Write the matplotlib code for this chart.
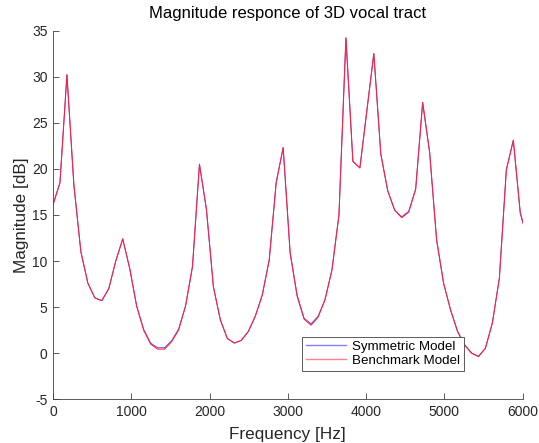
import numpy as np
import matplotlib
matplotlib.use("Agg")
import matplotlib.pyplot as plt

plt.rcParams['font.family'] = ['Liberation Sans', 'DejaVu Sans']
plt.rcParams['axes.unicode_minus'] = False

# Frequency grid step (Hz)
freq_step = 89.1
benchmark = [16.1, 18.5, 30.2, 18.2, 11.0, 7.6, 6.0, 5.7, 7.0, 10.0,
             12.4, 9.2, 5.1, 2.5, 1.0, 0.45, 0.45, 1.25, 2.5, 5.1,
             9.4, 20.5, 15.6, 7.2, 3.6, 1.6, 1.1, 1.4, 2.35, 4.0,
             6.3, 10.1, 18.5, 22.3, 10.9, 6.2, 3.7, 3.05, 3.9, 5.8,
             9.05, 15.0, 34.2, 20.8, 20.1, 26.3, 32.5, 21.6, 17.6, 15.5,
             14.7, 15.3, 17.8, 27.2, 21.8, 12.3, 7.6, 4.7, 2.35, 0.9,
             0.0, -0.37, 0.54, 3.3, 8.15, 19.9, 23.1, 15.2, 12.5]
symmetric = [16.1, 18.5, 30.2, 18.2, 11.0, 7.6, 6.0, 5.7, 7.0, 10.0,
             12.4, 9.2, 5.1, 2.6, 1.1, 0.6, 0.6, 1.35, 2.6, 5.1,
             9.4, 20.5, 15.6, 7.2, 3.6, 1.6, 1.1, 1.4, 2.35, 4.0,
             6.3, 10.1, 18.5, 22.3, 10.9, 6.3, 3.8, 3.2, 4.0, 5.8,
             9.05, 15.0, 34.2, 20.8, 20.1, 26.3, 32.5, 21.6, 17.6, 15.5,
             14.8, 15.4, 17.8, 27.2, 21.8, 12.3, 7.6, 4.7, 2.4, 0.95,
             0.05, -0.33, 0.54, 3.3, 8.15, 19.9, 23.1, 15.2, 12.5]
freq = np.arange(len(benchmark)) * freq_step

x_ticks = [0, 1000, 2000, 3000, 4000, 5000, 6000]
y_ticks = [-5, 0, 5, 10, 15, 20, 25, 30, 35]

fig = plt.figure(figsize=(5.39, 4.43), dpi=100)
ax = fig.add_axes([0.0983, 0.0986, 0.8714, 0.8325])

ax.plot(freq, symmetric, color='#4040ff', lw=0.6, label='Symmetric Model')
ax.plot(freq, benchmark, color='#ff2040', lw=0.8, label='Benchmark Model')

ax.set_xlim(0, 6000)
ax.set_ylim(-5, 35)
ax.set_xticks(x_ticks)
ax.set_yticks(y_ticks)

txt = '#262626'
for s in ['top', 'right']:
    ax.spines[s].set_visible(False)
for s in ['left', 'bottom']:
    ax.spines[s].set_color('#404040')
    ax.spines[s].set_linewidth(0.6)
ax.tick_params(direction='in', length=4, width=0.6, color='#404040',
               labelsize=10, labelcolor=txt, pad=4)

ax.set_title('Magnitude responce of 3D vocal tract', fontsize=12, color='#000000', pad=9)
ax.set_xlabel('Frequency [Hz]', fontsize=12.3, color=txt, labelpad=6)
ax.set_ylabel('Magnitude [dB]', fontsize=12.3, color=txt, labelpad=2)

leg = ax.legend(loc='lower left', bbox_to_anchor=(0.531, 0.077),
                fontsize=9.6, frameon=True, fancybox=False,
                edgecolor='#404040', framealpha=1, handlelength=3.0,
                handletextpad=0.4, borderpad=0.3, labelspacing=0.12,
                borderaxespad=0)
leg.get_frame().set_linewidth(0.6)
for t in leg.get_texts():
    t.set_color('#000000')
for h, c in zip(leg.get_lines(), ['#8080ff', '#ff8090']):
    h.set_color(c)
    h.set_linewidth(1.0)

fig.savefig('out.png', dpi=100)
